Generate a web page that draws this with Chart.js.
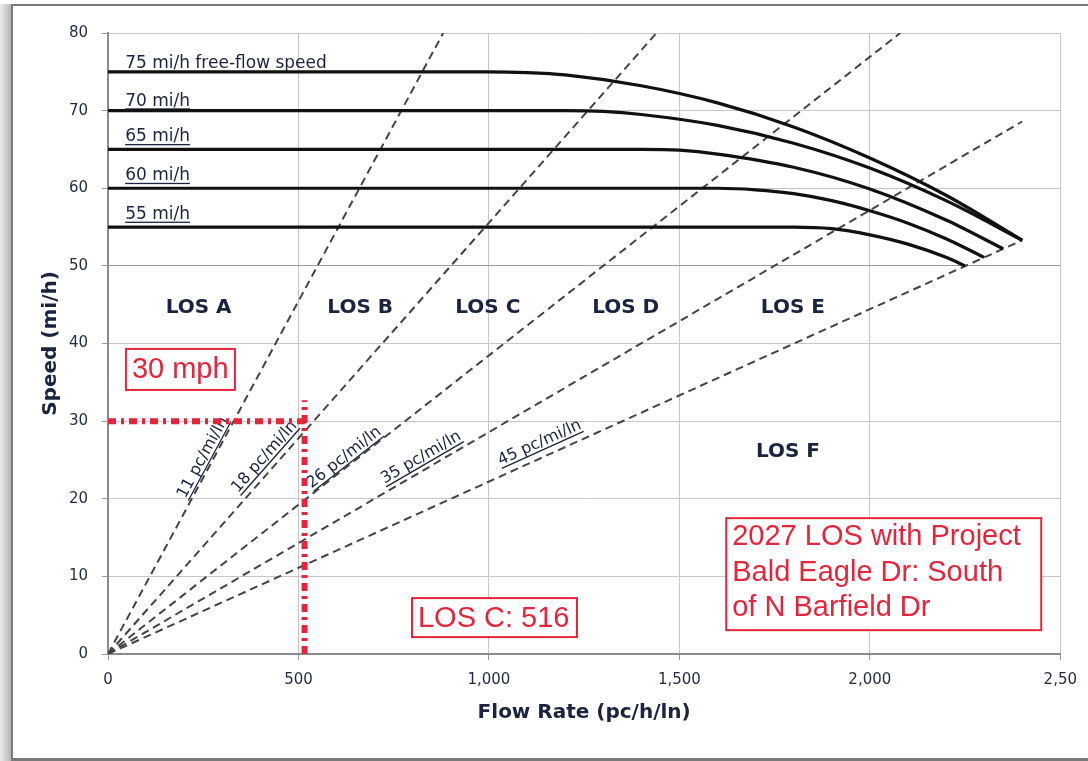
<!DOCTYPE html>
<html lang="en">

<head>
  <meta charset="UTF-8" />
  <meta name="viewport" content="width=device-width, initial-scale=1.0" />
  <title>Speed-Flow Curves</title>
  <script src="https://cdn.jsdelivr.net/npm/chart.js"></script>
  <style>
    html, body { margin: 0; padding: 0; background: #fff; }
  </style>
</head>

<body>
  <canvas id="flowChart" width="1088" height="761"></canvas>

  <script>
    // axis ticks
    const flowTicks = [0, 500, 1000, 1500, 2000, 2500];
    const flowTickLabels = ['0', '500', '1,000', '1,500', '2,000', '2,50'];

    // speed-flow curves (pc/h/ln -> mi/h)
    const ffsLabels = ['75 mi/h free-flow speed', '70 mi/h', '65 mi/h', '60 mi/h', '55 mi/h'];
    const flow75 = [0, 1000, 1100, 1200, 1400, 1600, 1800, 2000, 2200, 2400];
    const speed75 = [75, 75, 74.9, 74.6, 73.2, 71.0, 67.9, 63.9, 59.1, 53.3];
    const flow70 = [0, 1200, 1300, 1400, 1600, 1800, 2000, 2200, 2400];
    const speed70 = [70, 70, 69.9, 69.5, 68.1, 65.8, 62.6, 58.4, 53.3];
    const flow65 = [0, 1400, 1500, 1600, 1800, 2000, 2200, 2350];
    const speed65 = [65, 65, 64.9, 64.4, 62.7, 59.9, 55.9, 52.2];
    const flow60 = [0, 1600, 1700, 1800, 1900, 2000, 2100, 2200, 2300];
    const speed60 = [60, 60, 59.8, 59.3, 58.4, 57.1, 55.5, 53.5, 51.1];
    const flow55 = [0, 1800, 1900, 2000, 2100, 2200, 2250];
    const speed55 = [55, 55, 54.8, 54.0, 52.8, 51.1, 50.0];
    const ffsLabelFlow = [45, 45, 45, 45, 45];
    const ffsLabelSpeed = [76.0, 71.2, 66.6, 61.6, 56.6];

    // density lines from the origin
    const densityLabels = ['11 pc/mi/ln', '18 pc/mi/ln', '26 pc/mi/ln', '35 pc/mi/ln', '45 pc/mi/ln'];
    const densityEndFlow = [880, 1440, 2080, 2400, 2400];
    const densityEndSpeed = [80, 80, 80, 68.6, 53.3];
    const densityLabelFlow = [249, 411, 620, 822, 1133];
    const densityLabelSpeed = [25.3, 25.4, 25.3, 25.3, 27.2];

    // LOS region names
    const losLabels = ['LOS A', 'LOS B', 'LOS C', 'LOS D', 'LOS E', 'LOS F'];
    const losFlow = [238, 662, 997, 1359, 1798, 1785];
    const losSpeed = [44.6, 44.6, 44.6, 44.6, 44.6, 26.0];

    // study point
    const studyHFlow = [0, 530];
    const studyHSpeed = [30, 30];
    const studyVFlow = [516, 516];
    const studyVSpeed = [0, 32.7];

    const notes = [
      { lines: ['30 mph'], flow: 47, speed: 39.3, w: 109, h: 41 },
      { lines: ['LOS C: 516'], flow: 798, speed: 7.2, w: 165, h: 39 },
      { lines: ['2027 LOS with Project', 'Bald Eagle Dr: South', 'of N Barfield Dr'], flow: 1623, speed: 17.5, w: 315, h: 112 }
    ];

    const pts = (xs, ys) => xs.map((v, i) => ({ x: v, y: ys[i] }));
    const RED = '#e3263c';
    const NAVY = '#1a2440';

    const curveSets = [[flow75, speed75], [flow70, speed70], [flow65, speed65], [flow60, speed60], [flow55, speed55]]
      .map(([f, s]) => ({
        data: pts(f, s),
        borderColor: '#111',
        borderWidth: 3.2,
        pointRadius: 0,
        cubicInterpolationMode: 'monotone',
        order: 1
      }));

    const densitySets = densityEndFlow.map((f, i) => ({
      data: pts([0, f], [0, densityEndSpeed[i]]),
      borderColor: '#444',
      borderWidth: 2,
      borderDash: [8, 5],
      pointRadius: 0,
      order: 2
    }));

    const studySets = [[studyHFlow, studyHSpeed], [studyVFlow, studyVSpeed]].map(([f, s]) => ({
      data: pts(f, s),
      borderColor: RED,
      borderWidth: 6,
      borderDash: [8, 5, 3, 5],
      borderCapStyle: 'butt',
      pointRadius: 0,
      order: 0
    }));

    const overlay = {
      id: 'overlay',
      beforeDraw(chart) {
        const ctx = chart.ctx;
        ctx.save();
        ctx.fillStyle = '#fff';
        ctx.fillRect(0, 0, chart.width, chart.height);
        const g = ctx.createLinearGradient(0, 0, 12, 0);
        g.addColorStop(0, '#ececec');
        g.addColorStop(1, '#b0b0b0');
        ctx.fillStyle = g;
        ctx.fillRect(0, 4, 11, chart.height - 4);
        ctx.fillStyle = '#7a7a7a';
        ctx.fillRect(11, 4, 2, chart.height - 4);
        ctx.fillRect(11, 4, chart.width - 11, 2);
        ctx.fillRect(11, 758, chart.width - 11, 3);
        ctx.restore();
      },
      beforeDatasetsDraw(chart) {
        const { ctx, scales: { x, y } } = chart;
        ctx.save();
        ctx.fillStyle = NAVY;

        // curve names
        ctx.font = '17px "DejaVu Sans"';
        ctx.textAlign = 'left';
        ctx.textBaseline = 'middle';
        ffsLabels.forEach((t, i) => {
          const px = x.getPixelForValue(ffsLabelFlow[i]);
          const py = y.getPixelForValue(ffsLabelSpeed[i]);
          ctx.fillText(t, px, py);
          ctx.fillRect(px, py + 7, ctx.measureText(t).width, 1.3);
        });

        // density names, rotated along their lines
        ctx.font = '16px "DejaVu Sans"';
        ctx.textAlign = 'center';
        densityLabels.forEach((t, i) => {
          const ang = Math.atan2(
            y.getPixelForValue(densityEndSpeed[i]) - y.getPixelForValue(0),
            x.getPixelForValue(densityEndFlow[i]) - x.getPixelForValue(0));
          ctx.save();
          ctx.translate(x.getPixelForValue(densityLabelFlow[i]), y.getPixelForValue(densityLabelSpeed[i]));
          ctx.rotate(ang);
          ctx.fillText(t, 0, 0);
          const w = ctx.measureText(t).width;
          ctx.fillRect(-w / 2, 7, w, 1.3);
          ctx.restore();
        });

        // LOS names
        ctx.font = 'bold 20px "DejaVu Sans"';
        losLabels.forEach((t, i) => {
          ctx.fillText(t, x.getPixelForValue(losFlow[i]), y.getPixelForValue(losSpeed[i]));
        });
        ctx.restore();
      },
      afterDatasetsDraw(chart) {
        const { ctx, scales: { x, y } } = chart;
        ctx.save();
        ctx.font = '29px "Liberation Sans"';
        ctx.textAlign = 'left';
        ctx.textBaseline = 'middle';
        notes.forEach(n => {
          const bx = x.getPixelForValue(n.flow);
          const by = y.getPixelForValue(n.speed);
          ctx.fillStyle = '#fff';
          ctx.fillRect(bx, by, n.w, n.h);
          ctx.strokeStyle = RED;
          ctx.lineWidth = 2;
          ctx.strokeRect(bx, by, n.w, n.h);
          ctx.fillStyle = RED;
          const lh = 35.5;
          const first = n.lines.length === 1 ? n.h / 2 + 1 : 19;
          n.lines.forEach((l, k) => ctx.fillText(l, bx + 6, by + first + k * lh));
        });
        ctx.restore();
      }
    };

    new Chart(document.getElementById('flowChart'), {
      type: 'line',
      data: { datasets: [...studySets, ...curveSets, ...densitySets] },
      plugins: [overlay],
      options: {
        responsive: false,
        animation: false,
        layout: { padding: { left: 0, right: 23, top: 33, bottom: 0 } },
        plugins: {
          legend: { display: false },
          tooltip: { enabled: false }
        },
        scales: {
          x: {
            type: 'linear',
            min: 0,
            max: 2500,
            afterBuildTicks: s => { s.ticks = flowTicks.map(v => ({ value: v })); },
            afterFit: s => { s.height = 107; },
            ticks: {
              callback: (v) => flowTickLabels[flowTicks.indexOf(v)],
              font: { family: 'DejaVu Sans', size: 15 },
              color: '#1f2a45',
              padding: 11,
              maxRotation: 0
            },
            grid: { color: '#c6c6c6', lineWidth: 1, tickLength: 6, tickColor: '#999' },
            border: { color: '#8c8c8c', width: 2 },
            title: {
              display: true,
              text: 'Flow Rate (pc/h/ln)',
              font: { family: 'DejaVu Sans', size: 20, weight: 'bold' },
              color: NAVY,
              padding: { top: 0, bottom: 36 }
            }
          },
          y: {
            min: 0,
            max: 80,
            afterFit: s => { s.width = 108; },
            ticks: {
              stepSize: 10,
              font: { family: 'DejaVu Sans', size: 15 },
              color: '#1f2a45',
              padding: 14
            },
            grid: {
              color: c => (c.tick && c.tick.value === 50 ? '#9c9c9c' : '#c6c6c6'),
              lineWidth: 1,
              tickLength: 6,
              tickColor: '#999'
            },
            border: { color: '#8c8c8c', width: 2 },
            title: {
              display: true,
              text: 'Speed (mi/h)',
              font: { family: 'DejaVu Sans', size: 20, weight: 'bold' },
              color: NAVY,
              padding: { top: 39, bottom: 0 }
            }
          }
        }
      }
    });
  </script>
</body>

</html>
